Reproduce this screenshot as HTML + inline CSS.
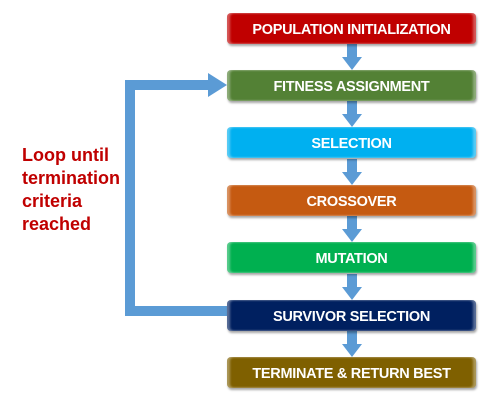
<!DOCTYPE html>
<html><head><style>
body{margin:0;width:504px;height:412px;background:#fff;position:relative;font-family:"Liberation Sans",sans-serif;overflow:hidden}
.b{position:absolute;left:227px;width:249px;height:31px;border-radius:4px;color:#fff;font-weight:bold;font-size:14.5px;text-align:center;line-height:34px;box-shadow:1px 2px 2px rgba(0,0,0,.35), inset 3px 0 2px rgba(255,255,255,.35), inset -3px 0 2px rgba(255,255,255,.35);letter-spacing:-.3px}
.t{position:absolute;left:22px;top:144px;color:#c00000;font-weight:bold;font-size:18px;line-height:23px}
</style></head><body>
<svg width="504" height="412" style="position:absolute;left:0;top:0">
<g fill="#5b9bd5">
<rect x="125" y="80" width="10" height="236"/>
<rect x="125" y="80" width="85" height="10"/>
<polygon points="208,73 227,85 208,97"/>
<rect x="125" y="306" width="104" height="10"/>
<g id="a"><rect x="347" y="44" width="10" height="14"/><polygon points="342,57 362,57 352,70"/></g>
<use href="#a" y="57"/><use href="#a" y="115"/><use href="#a" y="172"/><use href="#a" y="230"/><use href="#a" y="287"/>
</g></svg>
<div class="b" style="top:13px;background:#c00000">POPULATION INITIALIZATION</div>
<div class="b" style="top:70px;background:#538135">FITNESS ASSIGNMENT</div>
<div class="b" style="top:127px;background:#00b0f0">SELECTION</div>
<div class="b" style="top:185px;background:#c55a11">CROSSOVER</div>
<div class="b" style="top:242px;background:#00b050">MUTATION</div>
<div class="b" style="top:300px;background:#002060">SURVIVOR SELECTION</div>
<div class="b" style="top:357px;background:#7f6000">TERMINATE &amp; RETURN BEST</div>
<div class="t">Loop until<br>termination<br>criteria<br>reached</div>
</body></html>
